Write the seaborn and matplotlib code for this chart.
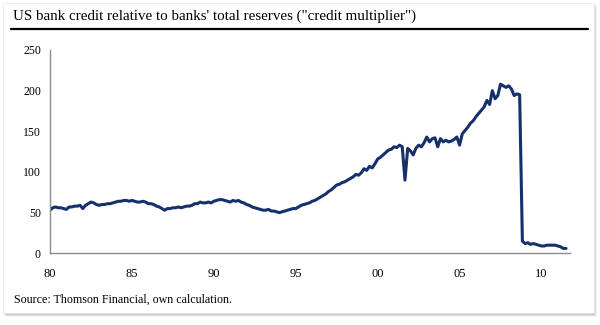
import numpy as np
import pandas as pd
import matplotlib
matplotlib.use("Agg")
import matplotlib.pyplot as plt
import seaborn as sns
from matplotlib.patches import Rectangle
from matplotlib.lines import Line2D

# ---------------- data (bi-monthly readings, start 1980.0) ----------------
title = "US bank credit relative to banks' total reserves (\"credit multiplier\")"
source = "Source: Thomson Financial, own calculation."
x_ticks = [1980, 1985, 1990, 1995, 2000, 2005, 2010]
x_ticklabels = ["80", "85", "90", "95", "00", "05", "10"]
y_ticks = [0, 50, 100, 150, 200, 250]

values_1980s = [
    53, 56, 57, 56, 56, 55,   # 1980
    54, 57, 57, 58, 58, 59,   # 1981
    55, 59, 61, 63, 62, 60,   # 1982
    59, 60, 60, 61, 61, 62,   # 1983
    63, 64, 64, 65, 65, 64,   # 1984
    65, 64, 63, 63, 64, 63,   # 1985
    61, 61, 60, 58, 57, 55,   # 1986
    53, 55, 55, 56, 56, 57,   # 1987
    56, 57, 58, 58, 59, 61,   # 1988
    61, 63, 62, 62, 63, 62,   # 1989
]
values_1990s = [
    64, 65, 66, 66, 65, 64,   # 1990
    63, 65, 64, 65, 63, 62,   # 1991
    60, 59, 57, 56, 55, 54,   # 1992
    53, 53, 54, 52, 52, 51,   # 1993
    50, 51, 52, 53, 54, 55,   # 1994
    55, 57, 59, 60, 61, 62,   # 1995
    64, 65, 67, 69, 71, 73,   # 1996
    76, 78, 81, 84, 85, 87,   # 1997
    88, 90, 92, 94, 97, 96,   # 1998
    99, 104, 102, 107, 105, 110,  # 1999
]
values_2000s = [
    116, 118, 121, 124, 127, 128,  # 2000
    131, 130, 133, 131, 90, 129,   # 2001
    126, 121, 129, 133, 131, 136,  # 2002
    143, 137, 141, 142, 131, 141,  # 2003
    137, 139, 137, 138, 140, 143,  # 2004
    133, 147, 151, 155, 160, 163,  # 2005
    168, 172, 176, 180, 188, 183,  # 2006
    200, 190, 194, 208, 206, 204,  # 2007
    206, 202, 194, 196, 195, 15,   # 2008
    12, 13, 11, 12, 11, 10,        # 2009
    9, 9, 10, 10, 10, 10,          # 2010
    9, 8, 6, 6,                    # 2011
]
values = values_1980s + values_1990s + values_2000s
years = 1980 + np.arange(len(values)) / 6.0
df = pd.DataFrame({"year": years, "multiplier": values})

# ---------------- figure ----------------
sns.set_theme(style="white")
plt.rcParams["font.family"] = ["Liberation Serif", "DejaVu Serif"]

W, H = 600, 325
fig = plt.figure(figsize=(W / 100, H / 100), dpi=100)
fig.patch.set_facecolor("white")

# panel with soft shadow
for i, a in enumerate([0.05, 0.07, 0.10]):
    off = 3 - i
    fig.patches.append(Rectangle(((3 + off) / W, (H - 314 - off) / H), 591 / W, 311 / H,
                                 transform=fig.transFigure, facecolor="black", alpha=a,
                                 edgecolor="none", zorder=-3))
fig.patches.append(Rectangle((3 / W, (H - 313) / H), 591 / W, 310 / H,
                             transform=fig.transFigure, facecolor="white",
                             edgecolor="#e6e6e6", linewidth=0.5, zorder=-2))

ax = fig.add_axes([50 / W, (H - 253.3) / H, 520 / W, 203.3 / H])
ax.set_zorder(3)
ax.set_facecolor("none")
sns.lineplot(data=df, x="year", y="multiplier", ax=ax, color="#15306a",
             linewidth=2.2, solid_joinstyle="round")

ax.set_xlim(1980, 2011.74)
ax.set_ylim(0, 250)
ax.set_xticks(x_ticks)
ax.set_xticklabels(x_ticklabels)
ax.set_yticks(y_ticks)
ax.set_xlabel("")
ax.set_ylabel("")
for s in ["top", "right"]:
    ax.spines[s].set_visible(False)
for s in ["left", "bottom"]:
    ax.spines[s].set_color("#8c8c8c")
    ax.spines[s].set_linewidth(1.0)
ax.tick_params(axis="both", direction="out", length=3.5, width=1.0, color="#8c8c8c",
               labelcolor="black")
ax.tick_params(axis="x", pad=7, labelsize=9)
ax.tick_params(axis="y", pad=3, labelsize=8.5)

# title fitted to reference width
t = fig.text(13 / W, (H - 20) / H, title, fontsize=10, color="black",
             ha="left", va="baseline", zorder=5)
fig.canvas.draw()
r = fig.canvas.get_renderer()
w = t.get_window_extent(r).width
t.set_fontsize(10 * 403 / w)

s = fig.text(14.5 / W, (H - 303) / H, source, fontsize=8, color="black",
             ha="left", va="baseline", zorder=5)
fig.canvas.draw()
w = s.get_window_extent(r).width
s.set_fontsize(8 * 217 / w)

fig.lines.append(Line2D([11 / W, 588 / W], [(H - 28.7) / H] * 2, transform=fig.transFigure,
                        color="black", linewidth=1.6, zorder=5))

fig.savefig("out.png", dpi=100, facecolor="white")
